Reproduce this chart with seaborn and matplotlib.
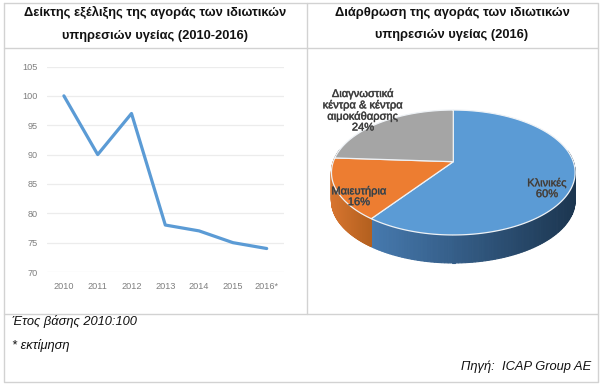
import numpy as np
import pandas as pd
import matplotlib
matplotlib.use("Agg")
import matplotlib.pyplot as plt
import matplotlib.patheffects as pe
from matplotlib.colors import to_rgb
from matplotlib.patches import Polygon
import seaborn as sns

years = ["2010", "2011", "2012", "2013", "2014", "2015", "2016*"]
index_values = [100, 90, 97, 78, 77, 75, 74]
y_ticks = [70, 75, 80, 85, 90, 95, 100, 105]

pie_labels = ["Κλινικές\n60%", "Μαιευτήρια\n16%", "Διαγνωστικά\nκέντρα & κέντρα\nαιμοκάθαρσης\n24%"]
pie_shares = [60, 16, 24]
pie_colors = ["#5b9bd5", "#ed7d31", "#a5a5a5"]
wall_colors = [("#4679ae", "#1c3650"), ("#d8752f", "#b3601f"), ("#808080", "#808080")]

title_left = "Δείκτης εξέλιξης της αγοράς των ιδιωτικών\nυπηρεσιών υγείας (2010-2016)"
title_right = "Διάρθρωση της αγοράς των ιδιωτικών\nυπηρεσιών υγείας (2016)"

W, H = 600, 384
BORDER = "#d2d2d2"

sns.set_theme(style="white")
plt.rcParams["font.family"] = ["Liberation Sans", "DejaVu Sans"]

fig = plt.figure(figsize=(W / 100, H / 100), dpi=100, facecolor="white")

# frame, titles, notes are placed in pixels
bg = fig.add_axes([0, 0, 1, 1])
bg.set_xlim(0, W)
bg.set_ylim(H, 0)
bg.axis("off")
bg.plot([4, 598, 598, 4, 4], [3, 3, 382, 382, 3], color=BORDER, lw=1)
bg.plot([4, 598], [48, 48], color=BORDER, lw=1)
bg.plot([4, 598], [313.5, 313.5], color=BORDER, lw=1)
bg.plot([307, 307], [3, 313.5], color=BORDER, lw=1)

bg.text(155, 24, title_left, ha="center", va="center", fontsize=9.3, fontweight="bold",
        color="#111111", linespacing=2.2)
bg.text(452, 24, title_right, ha="center", va="center", fontsize=9.3, fontweight="bold",
        color="#111111", linespacing=2.2)
bg.text(11.5, 322, "Έτος βάσης 2010:100", ha="left", va="center", fontsize=9.3, style="italic", color="#111111")
bg.text(11.5, 345, "* εκτίμηση", ha="left", va="center", fontsize=9.3, style="italic", color="#111111")
bg.text(591, 367, "Πηγή:  ICAP Group AE", ha="right", va="center", fontsize=9.3, style="italic", color="#111111")

# line chart
ax = fig.add_axes([47 / W, 1 - 272 / H, (283.6 - 47) / W, (272 - 66.5) / H])
ax.patch.set_alpha(0)
df = pd.DataFrame({"pos": range(len(years)), "value": index_values})
sns.lineplot(data=df, x="pos", y="value", color="#5b9bd5", linewidth=2.3, ax=ax)
ax.set_xlim(-0.5, 6.5)
ax.set_ylim(70, 105)
ax.set_yticks(y_ticks)
ax.set_xticks(range(len(years)))
ax.set_xticklabels(years)
ax.set_xlabel("")
ax.set_ylabel("")
ax.grid(axis="y", color="#ececec", lw=0.9)
ax.grid(axis="x", visible=False)
ax.set_axisbelow(True)
sns.despine(ax=ax, left=True, bottom=True)
ax.tick_params(axis="both", length=0, labelsize=6.6, labelcolor="#7f7f7f")
ax.tick_params(axis="x", pad=7)
ax.tick_params(axis="y", pad=6.5)


def tilt(xy):
    # pie lying back: flat disc seen in perspective, result in px from the apex
    u, v = xy[:, 0], xy[:, 1]
    d = 1 + 0.173 * v
    return np.column_stack([120 * u / d, 60.6 * v / d])


# pie chart, axes units are pixels with the apex at the origin
pie_ax = fig.add_axes([0, 0, 1, 1])
pie_ax.patch.set_alpha(0)
wedges, _ = pie_ax.pie(pie_shares, colors=pie_colors, startangle=90, counterclock=False)
pie_ax.set_aspect("auto")
pie_ax.set_xlim(-453.3, W - 453.3)
pie_ax.set_ylim(-(H - 161.7), 161.7)
pie_ax.axis("off")

depth = 28
for wedge, (c1, c2) in zip(wedges, wall_colors):
    ang = np.radians(np.linspace(wedge.theta1, wedge.theta2, 160))
    rim = tilt(np.column_stack([np.cos(ang), np.sin(ang)]))
    c1, c2 = np.array(to_rgb(c1)), np.array(to_rgb(c2))
    # side wall, shaded in thin strips, colour follows screen x
    front = rim[:, 1] < 12
    lo, hi = rim[front, 0].min(), rim[front, 0].max()
    for i in np.where(front[:-1] & front[1:])[0]:
        quad = [rim[i], rim[i + 1], rim[i + 1] - [0, depth], rim[i] - [0, depth]]
        col = c1 + (c2 - c1) * (rim[i, 0] - lo) / (hi - lo)
        pie_ax.add_patch(Polygon(quad, closed=True, fc=col, ec=col, lw=0.8, zorder=2))

for wedge in wedges:
    ang = np.radians(np.linspace(wedge.theta1, wedge.theta2, 200))
    arc = np.column_stack([np.cos(ang), np.sin(ang)])
    outline = np.vstack([[[0, 0]], arc])
    pie_ax.add_patch(Polygon(tilt(outline), closed=True, fc=wedge.get_facecolor(), ec="#eef2f6",
                             lw=0.9, zorder=3))
    wedge.set_visible(False)

label_pos = [(547, 188.5), (359, 196.5), (363, 110.5)]
for text, (lx, ly) in zip(pie_labels, label_pos):
    lab = pie_ax.text(lx - 453.3, 161.7 - ly, text, ha="center", va="center", fontsize=8,
                      color="#3a3a3a", linespacing=1.1, zorder=5)
    lab.set_path_effects([pe.withStroke(linewidth=0.4, foreground="#666666")])

fig.savefig("out.png", dpi=100)
